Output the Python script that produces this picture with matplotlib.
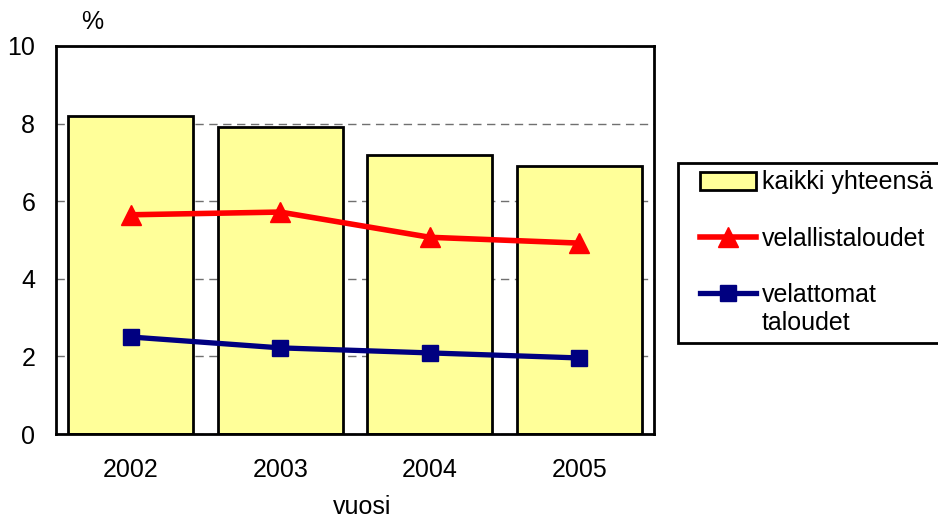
import numpy as np
import matplotlib
matplotlib.use("Agg")
import matplotlib.pyplot as plt
from matplotlib.legend_handler import HandlerLine2D, HandlerPatch

plt.rcParams['font.family'] = ['Liberation Sans', 'DejaVu Sans']

# data
years = ['2002', '2003', '2004', '2005']
kaikki = [8.2, 7.9, 7.2, 6.9]
velalliset = [5.65, 5.72, 5.07, 4.92]
velattomat = [2.50, 2.22, 2.09, 1.96]


class ShiftedLine(HandlerLine2D):
    # puts the legend line next to the first row of a two-row label
    def __init__(self, dy=0, **kw):
        super().__init__(**kw)
        self.dy = dy

    def create_artists(self, legend, orig_handle, xdescent, ydescent,
                       width, height, fontsize, trans):
        arts = super().create_artists(legend, orig_handle, xdescent, ydescent,
                                      width, height, fontsize, trans)
        for a in arts:
            a.set_ydata(np.asarray(a.get_ydata()) + self.dy)
        return arts


fs = 18
fig = plt.figure(figsize=(9.38, 5.21), dpi=100)
ax = fig.add_axes([56/938, 1-434/521, 598/938, 388/521])

x = np.arange(len(years))
b = ax.bar(x, kaikki, width=0.833, color='#FFFF99', edgecolor='black',
           linewidth=2, label='kaikki yhteensä', zorder=2)
l1, = ax.plot(x, velalliset, color='#FF0000', lw=4, marker='^', ms=14,
              label='velallistaloudet', zorder=3)
l2, = ax.plot(x, velattomat, color='#000080', lw=3.8, marker='s', ms=11,
              label='velattomat\ntaloudet', zorder=3)

ax.set_xlim(-0.5, 3.5)
ax.set_ylim(0, 10)
ax.set_yticks([0, 2, 4, 6, 8, 10])
ax.set_xticks(x)
ax.set_xticklabels(years)
ax.tick_params(axis='both', length=0, labelsize=fs)
ax.tick_params(axis='y', pad=15)
ax.tick_params(axis='x', pad=17)
ax.yaxis.grid(True, color='#707070', linestyle=(0, (6, 4)), linewidth=1, zorder=0)
ax.set_axisbelow(True)
for s in ax.spines.values():
    s.set_linewidth(2)

ax.set_xlabel('vuosi', fontsize=fs)
ax.xaxis.set_label_coords((362-56)/598, -(507-434)/388)
ax.xaxis.label.set_va('center')
fig.text(92/938, 1-22/521, '%', fontsize=fs, ha='center', va='center')

leg = fig.legend([b[0], l1, l2],
                 ['kaikki yhteensä', 'velallistaloudet', 'velattomat\ntaloudet'],
                 loc='upper left', bbox_to_anchor=(678/938, 1-163/521),
                 fontsize=fs, frameon=True, fancybox=False, edgecolor='black',
                 framealpha=1, handlelength=2.8, handletextpad=0.25, labelspacing=1.3,
                 borderpad=0.3, borderaxespad=0,
                 handler_map={b[0]: HandlerPatch(xpad=0.58),
                              l1: HandlerLine2D(xpad=0.58),
                              l2: ShiftedLine(dy=12, xpad=0.58)})
leg.get_frame().set_linewidth(2)

fig.savefig('out.png', dpi=100)
